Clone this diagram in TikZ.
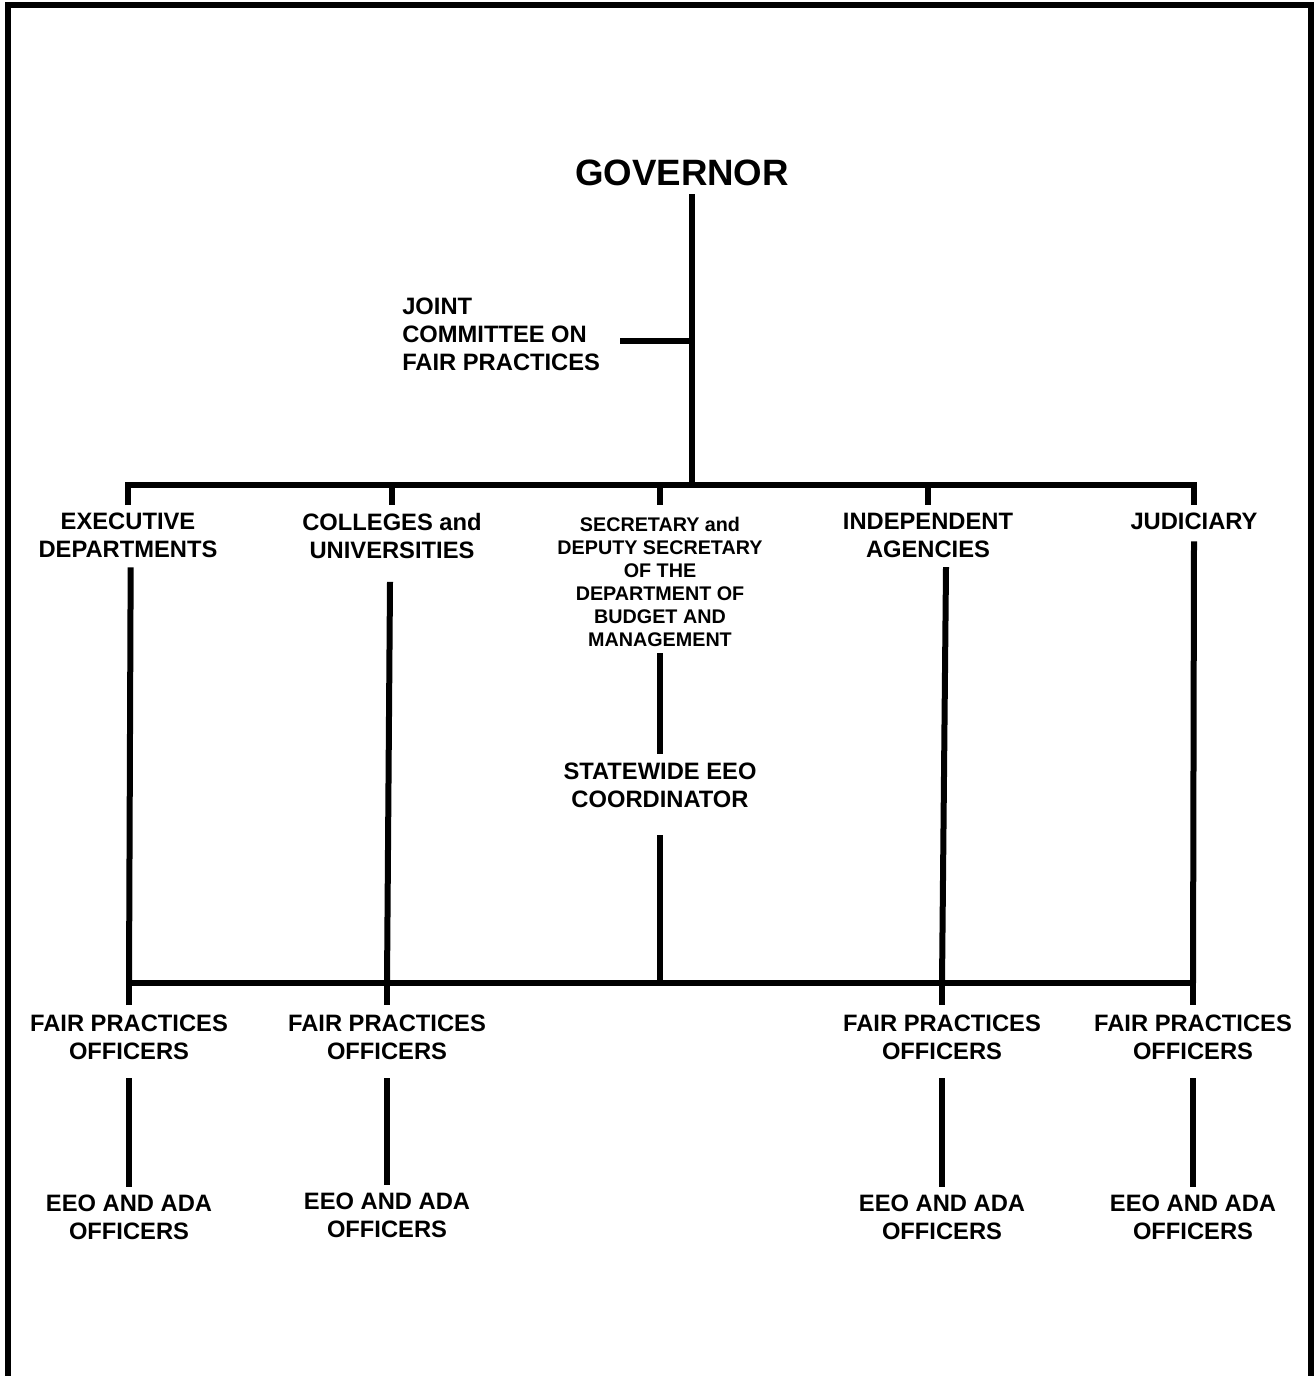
\documentclass[tikz,border=0pt]{standalone}
\usepackage{fontspec}
\setmainfont{Liberation Sans}
\usetikzlibrary{positioning}
\tikzset{
  govbox/.style={font=\fontsize{27.5}{33}\selectfont\bfseries, inner sep=0pt, anchor=north},
  unitbox/.style={font=\fontsize{17.8}{21}\selectfont\bfseries, align=center, inner sep=0pt, anchor=north},
  smallbox/.style={font=\fontsize{14.8}{17.25}\selectfont\bfseries, align=center, inner sep=0pt, anchor=north},
  orgline/.style={line width=4.5pt},
  frameline/.style={line width=4.5pt, line join=miter}
}

\begin{document}
\begin{tikzpicture}[x=0.75pt, y=-0.75pt]
  \useasboundingbox (0,0) rectangle (1314,1376);
  \draw[frameline] (8,1376) -- (8,5) -- (1311,5) -- (1311,1376);

  \node[govbox] (gov) at (682,160) {GOVERNOR};
  \node[unitbox, align=left, anchor=north west] (jcfp) at (402,298)
        {JOINT\\COMMITTEE ON\\FAIR PRACTICES};

  % second row
  \node[unitbox] (exec) at (128,513) {EXECUTIVE\\DEPARTMENTS};
  \node[unitbox] (coll) at (392,513) {COLLEGES and\\UNIVERSITIES};
  \node[smallbox] (sec) at (660,517)
        {SECRETARY and\\DEPUTY SECRETARY\\OF THE\\DEPARTMENT OF\\BUDGET AND\\MANAGEMENT};
  \node[unitbox] (indep) at (928,513) {INDEPENDENT\\AGENCIES};
  \node[unitbox] (jud) at (1194,513) {JUDICIARY};
  \node[unitbox] (sweeo) at (660,763) {STATEWIDE EEO\\COORDINATOR};

  % officers
  \node[unitbox] (fpo1) at (129,1015) {FAIR PRACTICES\\OFFICERS};
  \node[unitbox] (fpo2) at (387,1015) {FAIR PRACTICES\\OFFICERS};
  \node[unitbox] (fpo4) at (942,1015) {FAIR PRACTICES\\OFFICERS};
  \node[unitbox] (fpo5) at (1193,1015) {FAIR PRACTICES\\OFFICERS};
  \node[unitbox] (eeo1) at (129,1195) {EEO AND ADA\\OFFICERS};
  \node[unitbox] (eeo2) at (387,1193) {EEO AND ADA\\OFFICERS};
  \node[unitbox] (eeo4) at (942,1195) {EEO AND ADA\\OFFICERS};
  \node[unitbox] (eeo5) at (1193,1195) {EEO AND ADA\\OFFICERS};

  % bus points
  \coordinate (govj) at (692,485);
  \coordinate (jcj) at (692,341);
  \coordinate (t1) at (128,485);
  \coordinate (t2) at (392,485);
  \coordinate (t3) at (660,485);
  \coordinate (t4) at (928,485);
  \coordinate (t5) at (1194,485);
  \coordinate (b1) at (129,983);
  \coordinate (b2) at (387,983);
  \coordinate (b3) at (660,983);
  \coordinate (b4) at (942,983);
  \coordinate (b5) at (1193,983);

  \draw[orgline] (gov.south -| govj) ++(0,8) -- (govj);
  \draw[orgline] (jcj) -- ([xshift=15pt]jcfp.east |- jcj);

  \draw[orgline, shorten <=6pt, shorten >=6pt] (exec.north) -- (t1) -- (t5) -- (jud.north);
  \draw[orgline, shorten >=6pt] (t2) -- (coll.north);
  \draw[orgline, shorten >=9pt] (t3) -- (sec.north);
  \draw[orgline, shorten >=6pt] (t4) -- (indep.north);

  \draw[orgline] ([xshift=2pt]exec.south) ++(0,9) -- (b1);
  \draw[orgline] ([xshift=-1.5pt]coll.south) ++(0,23) -- (b2);
  \draw[orgline, shorten <=4.5pt, shorten >=6.75pt] (sec) -- (sweeo);
  \draw[orgline, shorten <=20pt] (sweeo) -- (b3);
  \draw[orgline] ([xshift=13.5pt]indep.south) ++(0,9) -- (b4);
  \draw[orgline] (jud.south) ++(0,11) -- (b5);

  \draw[orgline, shorten <=7.5pt, shorten >=7.5pt] (fpo1.north) -- (b1) -- (b5) -- (fpo5.north);
  \draw[orgline, shorten >=7.5pt] (b2) -- (fpo2.north);
  \draw[orgline, shorten >=7.5pt] (b4) -- (fpo4.north);

  \draw[orgline, shorten <=13.5pt, shorten >=6pt] (fpo1) -- (eeo1);
  \draw[orgline, shorten <=13.5pt, shorten >=6pt] (fpo2) -- (eeo2);
  \draw[orgline, shorten <=13.5pt, shorten >=6pt] (fpo4) -- (eeo4);
  \draw[orgline, shorten <=13.5pt, shorten >=6pt] (fpo5) -- (eeo5);
\end{tikzpicture}
\end{document}
